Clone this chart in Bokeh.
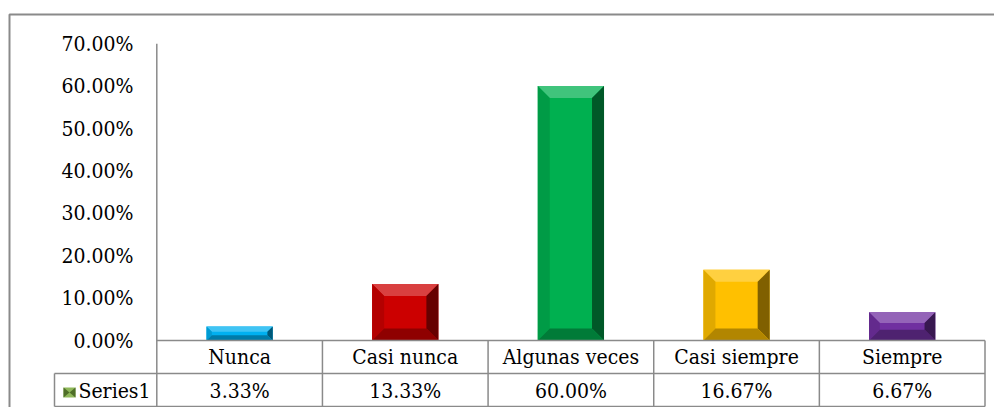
from bokeh.plotting import figure
from bokeh.models import Range1d
from bokeh.core.properties import value
from bokeh.embed import file_html
from bokeh.resources import INLINE

# ---- data ----
categories = ["Nunca", "Casi nunca", "Algunas veces", "Casi siempre", "Siempre"]
percentages = [3.33, 13.33, 60.00, 16.67, 6.67]
bar_colors = ["#00B0F0", "#CC0000", "#00B050", "#FFC000", "#7030A0"]
series_name = "Series1"
y_ticks = [0, 10, 20, 30, 40, 50, 60, 70]

# ---- geometry (pixel scale helpers) ----
W, H = 994, 407
SX = 165.64          # px per category unit
SY = 4.24            # px per percent
AXIS_PX, ZERO_PX = 156.3, 340.0
LINE = "#8a8a8a"
FONT = value("DejaVu Serif Condensed")
FS = "21px"

X0 = -0.5 - AXIS_PX / SX
X1 = X0 + W / SX
Y1 = ZERO_PX / SY
Y0 = Y1 - H / SY

def px_x(d):
    return d / SX

def px_y(d):
    return d / SY

row1 = -px_y(33)
row2 = -px_y(66)
cell_left = -0.5 - px_x(102.3)

p = figure(width=W, height=H, x_range=Range1d(X0, X1), y_range=Range1d(Y0, Y1),
           toolbar_location=None, output_backend="svg",
           x_axis_location=None, y_axis_location=None,
           min_border_left=0, min_border_right=0, min_border_top=0, min_border_bottom=0)
p.grid.visible = False
p.outline_line_color = None
p.background_fill_color = "white"
p.border_fill_color = "white"

# outer chart border (only top/left edges fall inside the picture)
p.quad(left=[X0 + px_x(9)], right=[X1 + 1], top=[Y1 - px_y(14)], bottom=[Y0 - 5],
       fill_color=None, line_color=LINE, line_width=2)

# ---- bars with bevel ----
def mix(c, t, a):
    c = c.lstrip("#")
    r, g, b = int(c[0:2], 16), int(c[2:4], 16), int(c[4:6], 16)
    tr, tg, tb = t
    return "#%02x%02x%02x" % (round(r + (tr - r) * a), round(g + (tg - g) * a), round(b + (tb - b) * a))

WHITE, BLACK = (255, 255, 255), (0, 0, 0)
hw = 0.2
xs, ys, cols = [], [], []
for i, (v, c) in enumerate(zip(percentages, bar_colors)):
    h_px = v * SY
    b_px = min(12.0, h_px * 0.38)
    bx, by = px_x(b_px), px_y(b_px)
    l, r, t, bt = i - hw, i + hw, v, 0.0
    xs.append([l, r, r, l]); ys.append([bt, bt, t, t]); cols.append(c)
    xs.append([l, r, r - bx, l + bx]); ys.append([t, t, t - by, t - by]); cols.append(mix(c, WHITE, 0.25))
    xs.append([l, l + bx, l + bx, l]); ys.append([t, t - by, bt + by, bt]); cols.append(mix(c, BLACK, 0.12))
    xs.append([r, r - bx, r - bx, r]); ys.append([t, t - by, bt + by, bt]); cols.append(mix(c, BLACK, 0.5))
    xs.append([l, r, r - bx, l + bx]); ys.append([bt, bt, bt + by, bt + by]); cols.append(mix(c, BLACK, 0.3))

p.patches(xs=xs, ys=ys, fill_color=cols, line_color=None)

# ---- axis line and data-table grid ----
n = len(categories)
seg_x0, seg_y0, seg_x1, seg_y1 = [], [], [], []
seg_x0.append(-0.5); seg_y0.append(y_ticks[-1]); seg_x1.append(-0.5); seg_y1.append(row2)
for k in range(1, n + 1):
    seg_x0.append(k - 0.5); seg_y0.append(0); seg_x1.append(k - 0.5); seg_y1.append(row2)
seg_x0.append(-0.5); seg_y0.append(0); seg_x1.append(n - 0.5); seg_y1.append(0)
for yy in (row1, row2):
    seg_x0.append(cell_left); seg_y0.append(yy); seg_x1.append(n - 0.5); seg_y1.append(yy)
seg_x0.append(cell_left); seg_y0.append(row1); seg_x1.append(cell_left); seg_y1.append(row2)
p.segment(x0=seg_x0, y0=seg_y0, x1=seg_x1, y1=seg_y1, line_color=LINE, line_width=1.5)

# ---- y tick labels ----
p.text(x=[-0.5 - px_x(23.3)] * len(y_ticks), y=y_ticks,
       text=[f"{t:.2f}%" for t in y_ticks], text_align="right", text_baseline="middle",
       text_font=FONT, text_font_size=FS, text_color="black")

# ---- data table texts ----
cat_y = -px_y(16.5)
val_y = -px_y(50.5)
p.text(x=list(range(n)), y=[cat_y] * n, text=categories, text_align="center",
       text_baseline="middle", text_font=FONT, text_font_size=FS, text_color="black")
p.text(x=list(range(n)), y=[val_y] * n, text=[f"{v:.2f}%" for v in percentages],
       text_align="center", text_baseline="middle", text_font=FONT, text_font_size=FS,
       text_color="black")
p.text(x=[-0.5 - px_x(78.3)], y=[val_y], text=[series_name], text_align="left",
       text_baseline="middle", text_font=FONT, text_font_size=FS, text_color="black")

# legend key (small bevelled green square)
kl, kr = -0.5 - px_x(93.3), -0.5 - px_x(81.3)
kt, kb = -px_y(47), -px_y(57)
kcx, kcy = (kl + kr) / 2, (kt + kb) / 2
p.patches(xs=[[kl, kr, kr, kl], [kl, kcx, kl], [kr, kcx, kr]],
          ys=[[kb, kb, kt, kt], [kt, kcy, kb], [kt, kcy, kb]],
          fill_color=["#8fb85a", "#4e6e28", "#4e6e28"], line_color=None)

open("out.html", "w").write(file_html(p, INLINE))
